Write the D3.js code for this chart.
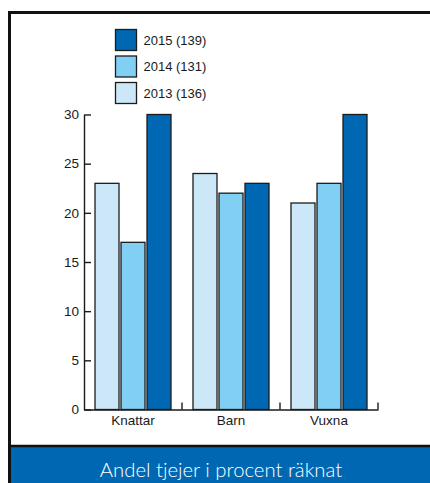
<!DOCTYPE html>
<html>
<head>
<meta charset="utf-8">
<script src="https://cdn.jsdelivr.net/npm/d3@7"></script>
<style>
  html, body { margin: 0; padding: 0; background: #fff; overflow: hidden; }
  svg { display: block; }
  text { font-family: "Liberation Sans", Arial, sans-serif; fill: #1a1a1a; }
</style>
</head>
<body>
<svg id="chart" width="430" height="483"></svg>
<script>
// Age groups along the x axis
const categories = ["Knattar", "Barn", "Vuxna"];
// Series (years), in bar order left to right
const seriesKeys = ["2013", "2014", "2015"];
const seriesLabels = ["2013 (136)", "2014 (131)", "2015 (139)"];
// Percentage of girls per age group, one array per year
const values2013 = [23, 24, 21];
const values2014 = [17, 22, 23];
const values2015 = [30, 23, 30];
const yTicks = [0, 5, 10, 15, 20, 25, 30];
const title = "Andel tjejer i procent räknat";

const colors = { "2013": "#cce8f8", "2014": "#82cff4", "2015": "#0068b3" };
const seriesValues = { "2013": values2013, "2014": values2014, "2015": values2015 };

const svg = d3.select("#chart");
const W = 430, H = 483;

// title banner
svg.append("rect")
  .attr("x", 11).attr("y", 446)
  .attr("width", W).attr("height", H - 446 + 5)
  .attr("fill", "#0068b3");
svg.append("line")
  .attr("x1", 11).attr("x2", W).attr("y1", 446).attr("y2", 446)
  .attr("stroke", "#111").attr("stroke-width", 2.5);
svg.append("text")
  .attr("x", 221).attr("y", 477)
  .attr("text-anchor", "middle")
  .style("font-family", "Lato, 'Open Sans', sans-serif")
  .style("font-weight", 300)
  .style("font-size", "20.3px")
  .style("fill", "#fff")
  .text(title);

// outer frame: top and left edges only (the box runs off the right and bottom)
svg.append("path")
  .attr("d", `M9.5,${H}V12.5H${W}`)
  .attr("fill", "none").attr("stroke", "#111").attr("stroke-width", 3);

const plot = { left: 84, right: 378, top: 114.5, bottom: 409.5 };

const x0 = d3.scaleBand().domain(categories).range([plot.left, plot.right]).padding(0);
const x1 = d3.scaleBand().domain(seriesKeys).range([0, x0.bandwidth()])
  .paddingInner(0.077).paddingOuter(0.423);
const y = d3.scaleLinear().domain([0, 30]).range([plot.bottom, plot.top]);

// bars
const groups = svg.append("g").selectAll("g")
  .data(categories).join("g")
  .attr("transform", d => `translate(${x0(d)},0)`);
groups.selectAll("rect")
  .data((c, i) => seriesKeys.map(k => ({ key: k, value: seriesValues[k][i] })))
  .join("rect")
  .attr("x", d => x1(d.key))
  .attr("y", d => y(d.value))
  .attr("width", x1.bandwidth())
  .attr("height", d => y(0) - y(d.value))
  .attr("fill", d => colors[d.key])
  .attr("stroke", "#1c1c1c")
  .attr("stroke-width", 1.3);

// y axis with inward ticks
const yAxis = svg.append("g")
  .attr("transform", `translate(${plot.left},0)`)
  .call(d3.axisLeft(y).tickValues(yTicks).tickSize(-7).tickSizeOuter(0).tickPadding(5));
yAxis.select(".domain").attr("stroke", "#1a1a1a").attr("stroke-width", 1.4);
yAxis.selectAll(".tick line").attr("stroke", "#1a1a1a").attr("stroke-width", 1.4);
yAxis.selectAll("text").style("font-size", "13.5px").style("font-family", "'Liberation Sans', Arial, sans-serif").attr("fill", "#1a1a1a");

// x axis: labels centred in bands, ticks at band boundaries pointing up
const xAxis = svg.append("g")
  .attr("transform", `translate(0,${plot.bottom})`)
  .call(d3.axisBottom(x0).tickSize(0).tickPadding(6));
xAxis.select(".domain").attr("stroke", "#1a1a1a").attr("stroke-width", 1.4);
xAxis.selectAll("text").style("font-size", "13.5px").style("font-family", "'Liberation Sans', Arial, sans-serif").attr("fill", "#1a1a1a");
xAxis.selectAll("line.bound")
  .data(categories).join("line")
  .attr("class", "bound")
  .attr("x1", d => x0(d) + x0.bandwidth()).attr("x2", d => x0(d) + x0.bandwidth())
  .attr("y1", 0).attr("y2", -7)
  .attr("stroke", "#1a1a1a").attr("stroke-width", 1.4);

// legend, newest year on top
const legendOrder = seriesKeys.slice().reverse();
const legend = svg.append("g").selectAll("g")
  .data(legendOrder).join("g")
  .attr("transform", (d, i) => `translate(115.5,${29.5 + i * 26.5})`);
legend.append("rect")
  .attr("width", 21).attr("height", 21)
  .attr("fill", d => colors[d])
  .attr("stroke", "#1c1c1c").attr("stroke-width", 1.3);
legend.append("text")
  .attr("x", 28).attr("y", 10.5).attr("dy", "0.35em")
  .style("font-size", "13px")
  .text(d => seriesLabels[seriesKeys.indexOf(d)]);
</script>
</body>
</html>
